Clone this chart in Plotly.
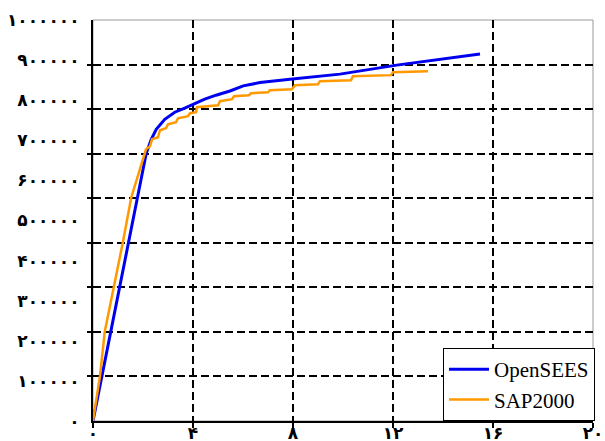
import plotly.graph_objects as go

# OpenSEES curve
opensees_x = [0, 1.43, 1.77, 2.13, 2.33, 2.53, 2.87, 3.27, 3.67, 4.0, 4.47, 4.92,
              5.48, 6.01, 6.68, 7.88, 9.88, 12.15, 15.48]
opensees_y = [0, 447500, 557500, 667500, 702500, 727500, 752500, 770000, 780000,
              790000, 802500, 812500, 823000, 835750, 844000, 852500, 865000,
              887500, 915000]

# SAP2000 curve (stepped)
sap_x = [0, 0.28, 0.47, 0.84, 1.2, 1.53, 1.83, 2.12, 2.28, 2.36, 2.6, 2.68, 2.92,
         3.0, 3.32, 3.4, 3.8, 3.88, 4.12, 4.16, 5.0, 5.08, 5.56, 5.64, 6.24, 6.32,
         7.0, 7.08, 7.96, 8.08, 9.0, 9.08, 10.32, 10.4, 11.92, 12.0, 13.4]
sap_y = [0, 112500, 222500, 335000, 447500, 557500, 620000, 677500, 685000, 702500,
         707500, 725000, 730000, 740000, 745000, 755000, 760000, 767500, 770000,
         782500, 787500, 797500, 802500, 810000, 812500, 817500, 820000, 825000,
         827500, 837500, 840000, 847500, 850000, 860000, 862500, 870000, 872500]

x_tickvals = [0, 4, 8, 12, 16, 20]
x_ticktext = ["۰", "۴", "۸", "۱۲", "۱۶", "۲۰"]
y_tickvals = [0, 100000, 200000, 300000, 400000, 500000, 600000, 700000, 800000,
              900000, 1000000]
y_ticktext = ["۰", "۱۰۰۰۰۰", "۲۰۰۰۰۰", "۳۰۰۰۰۰", "۴۰۰۰۰۰", "۵۰۰۰۰۰", "۶۰۰۰۰۰",
              "۷۰۰۰۰۰", "۸۰۰۰۰۰", "۹۰۰۰۰۰", "۱۰۰۰۰۰۰"]
x_gridvals = [4, 8, 12, 16]
y_gridvals = [1000000 / 9 * k for k in range(1, 9)]

fig = go.Figure()
fig.add_trace(go.Scatter(x=opensees_x, y=opensees_y, mode="lines", name="OpenSEES",
                         line=dict(color="#0000F0", width=3)))
fig.add_trace(go.Scatter(x=sap_x, y=sap_y, mode="lines", name="SAP2000",
                         line=dict(color="#FF9900", width=2.5)))

tickfont = dict(family="DejaVu Sans", size=17, color="black", weight="bold")

fig.update_layout(
    width=605, height=441,
    margin=dict(l=93, r=11, t=20, b=20),
    paper_bgcolor="white", plot_bgcolor="white",
    showlegend=True,
    legend=dict(x=1.002, y=0, xanchor="right", yanchor="bottom",
                bgcolor="white", bordercolor="black", borderwidth=1,
                font=dict(family="Liberation Serif", size=21, color="black"),
                tracegroupgap=0, itemwidth=40),
    shapes=[dict(type="rect", xref="paper", yref="paper", x0=0, x1=1, y0=0, y1=1,
                 line=dict(color="#999999", width=1), layer="below")],
)

fig.update_xaxes(
    range=[0, 20], tickmode="array", tickvals=x_tickvals, ticktext=x_ticktext,
    showgrid=False, zeroline=False, automargin=False,
    showline=True, linecolor="black", linewidth=2,
    ticks="outside", ticklen=5, tickwidth=1.5, tickcolor="black",
    tickfont=tickfont, ticklabelstandoff=-9,
    minor=dict(tickmode="array", tickvals=x_gridvals, showgrid=True,
               gridcolor="black", gridwidth=1.5, griddash="8px,4px", ticks=""),
)
fig.update_yaxes(
    range=[0, 1000000], tickmode="array", tickvals=y_tickvals, ticktext=y_ticktext,
    showgrid=False, zeroline=False, automargin=False,
    showline=True, linecolor="black", linewidth=2,
    ticks="", tickfont=tickfont, ticklabelstandoff=8,
    minor=dict(tickmode="array", tickvals=y_gridvals, showgrid=True,
               gridcolor="black", gridwidth=1.5, griddash="8px,4px",
               ticks="outside", ticklen=4, tickwidth=1.5, tickcolor="black"),
)

fig.write_html("out.html", config={"displayModeBar": False},
               post_script="document.body.style.margin='0';document.body.style.overflow='hidden';")
